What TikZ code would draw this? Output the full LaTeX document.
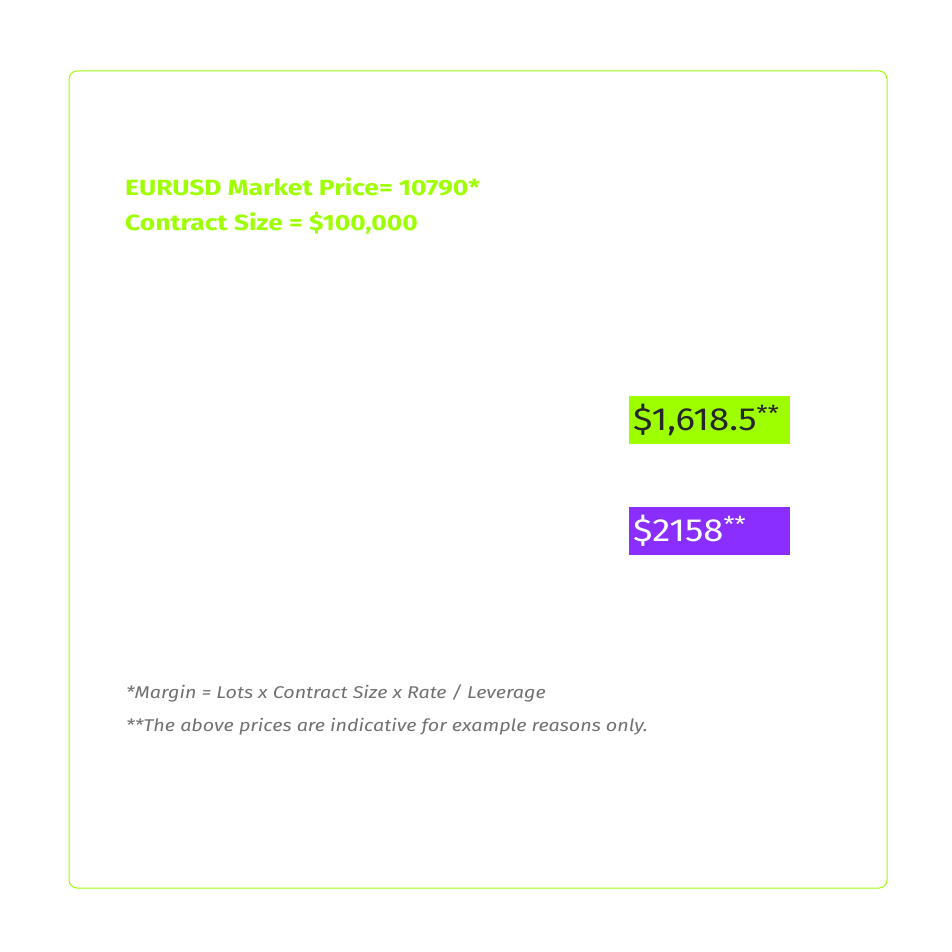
\documentclass[tikz,border=0pt]{standalone}
\usepackage{fontspec}
\setmainfont{Fira Sans}
\newfontfamily\headfont[FakeStretch=1.2]{Fira Sans}
\newfontfamily\notefont[FakeStretch=1.16]{Fira Sans}
\newfontfamily\boxfont[FakeStretch=1.14]{Fira Sans}
\usetikzlibrary{positioning}
\definecolor{limetone}{HTML}{9EFF00}
\definecolor{purpletone}{HTML}{8A2EFF}
\definecolor{notegray}{HTML}{707070}
\newcommand{\stars}{\raisebox{9pt}{\fontsize{22}{22}\selectfont**}}

\begin{document}
\begin{tikzpicture}[x=1pt,y=-1pt,node distance=35pt]
    \tikzset{heading/.style={anchor=base west,inner sep=0pt,text=limetone,font=\headfont\fontsize{22}{26}\selectfont\bfseries}}
    \tikzset{pricebox/.style={anchor=north west,minimum height=48pt,text width=153pt,inner xsep=4pt,inner ysep=0pt,align=left,font=\boxfont\fontsize{32}{36}\selectfont}}
    \tikzset{note/.style={anchor=base west,inner sep=0pt,text=notegray,font=\notefont\fontsize{17}{20}\selectfont\itshape}}
    \useasboundingbox (0,0) rectangle (951,952);
    \draw[limetone,line width=1pt,rounded corners=8pt] (69,71) rectangle (887,888);
    \node[heading] (price) at (125,195) {EURUSD Market Price= 10790*};
    \node[heading] (size) [below=35pt of price.base west,anchor=base west] {Contract Size = \$100,000};
    \node[pricebox,fill=limetone,text=black!85] (green) at (629,396) {\$1,618.5\stars};
    \node[pricebox,fill=purpletone,text=white] (purple) [below=62pt of green.south west,anchor=north west] {\$2158\stars};
    \node[note] (margin) at (126,698) {*Margin = Lots x Contract Size x Rate / Leverage};
    \node[note] (disclaimer) [below=33pt of margin.base west,anchor=base west] {**The above prices are indicative for example reasons only.};
\end{tikzpicture}
\end{document}
